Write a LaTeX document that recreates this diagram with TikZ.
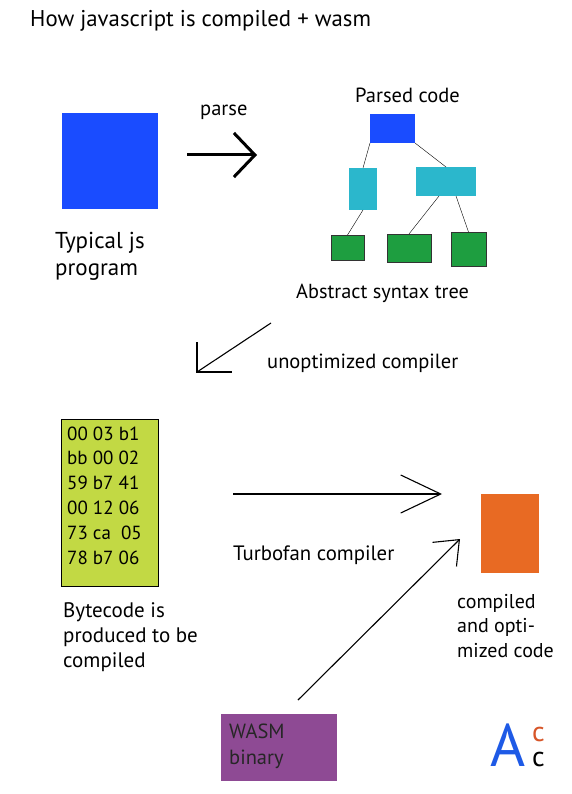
\documentclass[tikz,border=0pt]{standalone}
\usepackage{fontspec}
\setmainfont{PT Sans}
\usetikzlibrary{arrows.meta}

\definecolor{jsblue}{RGB}{26,76,255}
\definecolor{astcyan}{RGB}{43,183,204}
\definecolor{astgreen}{RGB}{30,158,64}
\definecolor{bclime}{RGB}{194,217,68}
\definecolor{optorange}{RGB}{232,106,35}
\definecolor{wasmpurple}{RGB}{142,74,148}
\definecolor{logoblue}{RGB}{30,90,230}
\definecolor{logored}{RGB}{215,85,40}

\begin{document}
\begin{tikzpicture}[x=1pt, y=-1pt, >=Straight Barb,
    box/.style={inner sep=0pt, outer sep=0pt, anchor=north west},
    % 多行文字: base 锚点在最后一行
    txt/.style={anchor=base west, inner sep=0pt, align=left, font=\fontsize{21.5}{25}\selectfont},
    thinline/.style={line width=1.1pt}]
    \useasboundingbox[fill=white] (0,0) rectangle (571,794);

    % 标题
    \node[txt, font=\fontsize{22.8}{25}\selectfont] (title) at (30,27) {How javascript is compiled + wasm};

    % js 程序
    \node[box, fill=jsblue, minimum width=96pt, minimum height=96pt] (js) at (62,113) {};
    \node[txt, font=\fontsize{23}{27}\selectfont] (jslabel) at (55,275) {Typical js\\program};

    % parse 箭头
    \coordinate (p1) at (187,155);
    \coordinate (p2) at (257,155);
    \draw[line width=3pt, -{Straight Barb[length=21pt,width=44pt]}] (p1) -- (p2);
    \node[txt, font=\fontsize{20.5}{25}\selectfont] (parse) at (200,116) {parse};

    % 语法树
    \node[txt, font=\fontsize{20.5}{23}\selectfont] (parsed) at (355,103) {Parsed code};
    \node[box, fill=jsblue, minimum width=45pt, minimum height=29pt] (top) at (370,114) {};
    \node[box, fill=astcyan, minimum width=28pt, minimum height=42pt] (lc) at (349,168) {};
    \node[box, fill=astcyan, minimum width=60pt, minimum height=29pt] (rc) at (416,167) {};
    \node[box, fill=astgreen, draw=black!80, line width=0.6pt, minimum width=33pt, minimum height=25pt] (g1) at (331,235) {};
    \node[box, fill=astgreen, draw=black!80, line width=0.6pt, minimum width=44pt, minimum height=28pt] (g2) at (387,234) {};
    \node[box, fill=astgreen, draw=black!80, line width=0.6pt, minimum width=35pt, minimum height=34pt] (g3) at (451,232) {};
    \draw (top.south west) -- (lc.north);
    \draw (top.south east) -- (rc.north);
    \draw (lc.south) -- (g1.north);
    \draw ([xshift=-7pt]rc.south) -- (g2.north);
    \draw ([xshift=10pt]rc.south) -- (g3.north);
    \node[txt, font=\fontsize{20.3}{23}\selectfont] (ast) at (296,298) {Abstract syntax tree};

    % unoptimized compiler 箭头
    \coordinate (u1) at (271,323);
    \coordinate (u2) at (197,372);
    \draw[thinline] (u1) -- (u2);
    \draw[thinline] (u2) ++(0,-30) -- (u2) -- ++(35,0);
    \node[txt, font=\fontsize{20.5}{23}\selectfont] (unopt) at (267,368) {unoptimized compiler};

    % 字节码
    \node[box, fill=bclime, draw=black, line width=0.8pt, minimum width=97pt, minimum height=167pt] (bc) at (61,419) {};
    \node[txt, font=\fontsize{19}{24.8}\selectfont] (bytes) at (67,564)
        {00 03 b1\\bb 00 02\\59 b7 41\\00 12 06\\73 ca\ \ 05\\78 b7 06};
    \node[txt, font=\fontsize{21}{25}\selectfont] (bclabel) at (63,667) {Bytecode is\\produced to be\\compiled};

    % Turbofan 箭头
    \coordinate (t1) at (233,494);
    \coordinate (t2) at (442,494);
    \draw[thinline, -{Straight Barb[length=40pt,width=38pt]}] (t1) -- (t2);
    \node[txt, font=\fontsize{20.8}{23}\selectfont] (turbo) at (233,560) {Turbofan compiler};

    % 优化后代码
    \node[box, fill=optorange, minimum width=58pt, minimum height=79pt] (opt) at (481,494) {};
    \node[txt, font=\fontsize{20}{24.5}\selectfont] (optlabel) at (457,657) {compiled\\and opti-\\mized code};

    % WASM
    \node[box, fill=wasmpurple, minimum width=116pt, minimum height=67pt] (wasm) at (221,714) {};
    \node[txt, font=\fontsize{20.5}{26}\selectfont, text=black!85] (wasmlabel) at (229,764) {WASM\\binary};
    \coordinate (w1) at (298,700);
    \coordinate (w2) at (460,539);
    \draw[thinline, -{Straight Barb[length=21pt,width=34pt]}] (w1) -- (w2);

    % 标志
    \node[txt, font=\fontsize{60}{60}\selectfont, text=logoblue] (logoA) at (490,766) {A};
    \node[txt, font=\fontsize{28}{28}\selectfont, text=logored] (logoc1) at (532,741) {c};
    \node[txt, font=\fontsize{28}{28}\selectfont] (logoc2) at (532,766) {c};
\end{tikzpicture}
\end{document}
